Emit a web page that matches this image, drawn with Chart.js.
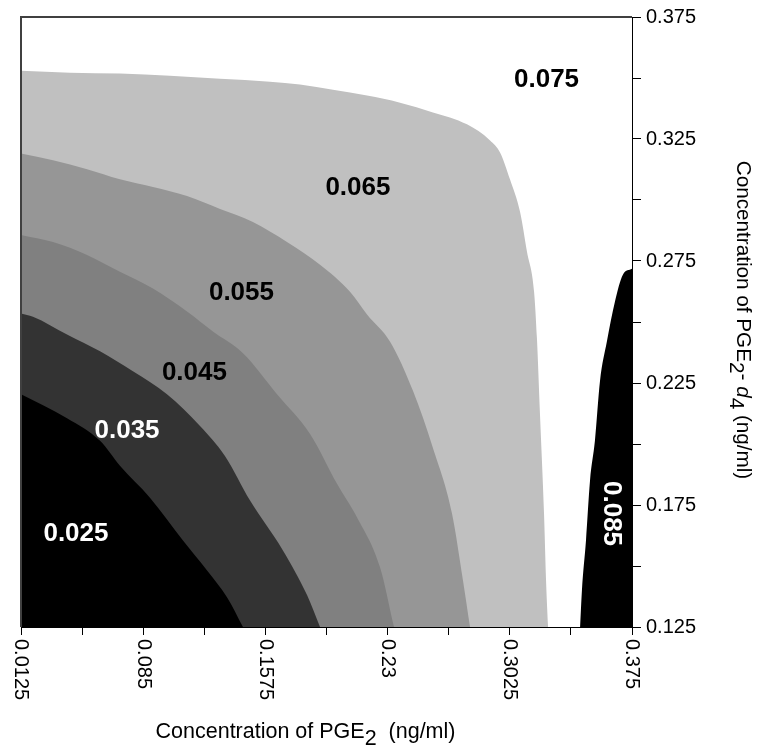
<!DOCTYPE html>
<html><head><meta charset="utf-8">
<script src="https://cdn.jsdelivr.net/npm/chart.js@4.4.0/dist/chart.umd.min.js"></script>
<style>html,body{margin:0;padding:0;background:#fff;}#wrap{width:764px;height:751px;}</style>
</head><body><div id="wrap"><canvas id="c" width="764" height="751"></canvas></div>
<script>
// ---- data ----
const xTickValues = [0.0125, 0.085, 0.1575, 0.23, 0.3025, 0.375];
const xTickLabels = ['0.0125', '0.085', '0.1575', '0.23', '0.3025', '0.375'];
const yTickValues = [0.125, 0.175, 0.225, 0.275, 0.325, 0.375];
const yTickLabels = ['0.125', '0.175', '0.225', '0.275', '0.325', '0.375'];

// contour boundaries: x = PGE2 (ng/ml), y = PGE2-d4 (ng/ml); region lies below each line
const level025X = [0.0125,0.0398,0.0594,0.0712,0.0890,0.1086,0.1229,0.1347,0.1442];
const level025Y = [0.2204,0.2106,0.2013,0.1911,0.1780,0.1605,0.1482,0.1372,0.125];
const level035X = [0.0125,0.0196,0.0398,0.0594,0.0789,0.0991,0.1187,0.1335,0.1484,0.1679,0.1822,0.1899];
const level035Y = [0.2535,0.2522,0.2449,0.2380,0.2298,0.2204,0.2074,0.1951,0.1768,0.1564,0.1381,0.125];
const level045X = [0.0125,0.0315,0.0517,0.0712,0.0908,0.1110,0.1264,0.1442,0.1644,0.1840,0.2000,0.2119,0.2255,0.2338];
const level045Y = [0.2857,0.2828,0.2775,0.2706,0.2637,0.2543,0.2461,0.2372,0.2204,0.2041,0.1837,0.1699,0.1495,0.125];
const level055X = [0.0125,0.0315,0.0517,0.0712,0.0908,0.1110,0.1306,0.1501,0.1703,0.1899,0.2077,0.2178,0.2314,0.2451,0.2569,0.2682,0.2747,0.2789];
const level055Y = [0.3191,0.3163,0.3126,0.3085,0.3053,0.3016,0.2963,0.2910,0.2828,0.2735,0.2624,0.2531,0.2420,0.2217,0.1984,0.1715,0.1442,0.125];
const level065X = [0.0125,0.0416,0.0712,0.1009,0.1306,0.1602,0.1780,0.1976,0.2178,0.2374,0.2569,0.2771,0.2908,0.2967,0.3026,0.3086,0.3127,0.3169,0.3186,0.3204,0.3228,0.3240,0.3252];
const level065Y = [0.3530,0.3522,0.3518,0.3509,0.3497,0.3485,0.3473,0.3452,0.3428,0.3399,0.3359,0.3310,0.3244,0.3195,0.3085,0.2951,0.2788,0.2624,0.2433,0.2123,0.1715,0.1442,0.125];
const level085X = [0.3442,0.3453,0.3477,0.3501,0.3530,0.3560,0.3601,0.3649,0.3696,0.375];
const level085Y = [0.125,0.1401,0.1605,0.1850,0.2013,0.2257,0.2420,0.2584,0.2694,0.2718];

// contour level labels and their anchor (data units)
const labelTexts = ['0.075','0.065','0.055','0.045','0.035','0.025','0.085'];
const labelX = [0.3243,0.2124,0.1433,0.1154,0.0754,0.0451,0.3634];
const labelY = [0.3497,0.3055,0.2624,0.2294,0.2058,0.1637,0.1715];

// ---- styling ----
const FAM = "'Liberation Sans', Arial, sans-serif";
const labelColor = {'0.075':'#000','0.065':'#000','0.055':'#000','0.045':'#000','0.035':'#fff','0.025':'#fff','0.085':'#fff'};
const labelRot = {'0.085': Math.PI/2};

const pts = (xs, ys) => xs.map((x, i) => ({x: x, y: ys[i]}));
const area = (xs, ys, col) => ({
  data: pts(xs, ys), fill: 'start', backgroundColor: col,
  borderWidth: 0, pointRadius: 0, cubicInterpolationMode: 'monotone'
});

function withMinor(vals) {
  const t = [];
  for (let i = 0; i < vals.length; i++) {
    t.push({value: vals[i]});
    if (i < vals.length - 1) t.push({value: (vals[i] + vals[i+1]) / 2});
  }
  return t;
}

function drawRich(ctx, segs, x, y) {
  let w = 0;
  segs.forEach(s => { ctx.font = s.f; w += ctx.measureText(s.t).width; });
  let cx = x - w / 2;
  segs.forEach(s => {
    ctx.font = s.f;
    ctx.fillText(s.t, cx, y + (s.dy || 0));
    cx += ctx.measureText(s.t).width;
  });
}

const overlay = {
  id: 'overlay',
  afterDatasetsDraw(chart) {
    const {ctx, chartArea: a, scales: {x, y}} = chart;
    ctx.save();
    // contour labels
    ctx.textAlign = 'center'; ctx.textBaseline = 'middle';
    ctx.font = 'bold 26px ' + FAM;
    labelTexts.forEach((t, i) => {
      ctx.save();
      ctx.translate(x.getPixelForValue(labelX[i]), y.getPixelForValue(labelY[i]));
      if (labelRot[t]) ctx.rotate(labelRot[t]);
      ctx.fillStyle = labelColor[t];
      ctx.fillText(t, 0, 1);
      ctx.restore();
    });
    // frame
    ctx.strokeStyle = '#404040'; ctx.lineWidth = 2;
    ctx.beginPath();
    ctx.moveTo(a.left, a.bottom); ctx.lineTo(a.left, a.top); ctx.lineTo(a.right, a.top);
    ctx.stroke();
    ctx.strokeStyle = '#000'; ctx.lineWidth = 1;
    ctx.beginPath();
    ctx.moveTo(a.left, a.bottom + 0.5); ctx.lineTo(a.right + 0.5, a.bottom + 0.5); ctx.lineTo(a.right + 0.5, a.top);
    ctx.stroke();
    // x tick labels (rotated clockwise)
    ctx.fillStyle = '#000'; ctx.font = '20px ' + FAM;
    ctx.textAlign = 'left'; ctx.textBaseline = 'middle';
    xTickValues.forEach((v, i) => {
      ctx.save();
      ctx.translate(x.getPixelForValue(v), a.bottom + 12);
      ctx.rotate(Math.PI / 2);
      ctx.fillText(xTickLabels[i], 0, 0);
      ctx.restore();
    });
    // axis titles
    ctx.textAlign = 'left'; ctx.textBaseline = 'alphabetic';
    const fx = '21.5px ' + FAM;
    drawRich(ctx, [
      {t: 'Concentration of PGE', f: fx},
      {t: '2', f: fx, dy: 7},
      {t: '  (ng/ml)', f: fx}
    ], a.left + 284.5, a.bottom + 111);
    const fy = '20.7px ' + FAM;
    ctx.save();
    ctx.translate(a.right + 105, (a.top + a.bottom) / 2 - 2);
    ctx.rotate(Math.PI / 2);
    drawRich(ctx, [
      {t: 'Concentration of PGE', f: fy},
      {t: '2', f: fy, dy: 7},
      {t: '- ', f: fy},
      {t: 'd', f: 'italic ' + fy},
      {t: '4', f: fy, dy: 7},
      {t: ' (ng/ml)', f: fy}
    ], 0, 0);
    ctx.restore();
    ctx.restore();
  }
};

new Chart(document.getElementById('c'), {
  type: 'line',
  data: {
    datasets: [
      area(level025X, level025Y, '#000000'),
      area(level035X, level035Y, '#333333'),
      area(level045X, level045Y, '#808080'),
      area(level055X, level055Y, '#969696'),
      area(level065X, level065Y, '#c0c0c0'),
      area(level085X, level085Y, '#000000')
    ]
  },
  options: {
    responsive: false, animation: false, events: [],
    layout: {padding: {left: 21, top: 14, right: 0, bottom: 0}},
    plugins: {legend: {display: false}, tooltip: {enabled: false}},
    scales: {
      x: {
        type: 'linear', position: 'bottom', min: 0.0125, max: 0.375,
        afterBuildTicks: s => { s.ticks = withMinor(xTickValues); },
        ticks: {display: false, autoSkip: false},
        grid: {drawOnChartArea: false, drawTicks: true, tickLength: 8, color: '#000'},
        border: {display: true, color: '#000', width: 1},
        afterFit: s => { s.height = 124; }
      },
      y: {
        type: 'linear', position: 'right', min: 0.125, max: 0.375,
        afterBuildTicks: s => { s.ticks = withMinor(yTickValues); },
        ticks: {
          autoSkip: false, padding: 5, color: '#000', font: {family: FAM, size: 20},
          callback: v => { const i = yTickValues.findIndex(t => Math.abs(t - v) < 1e-9); return i >= 0 ? yTickLabels[i] : ''; }
        },
        grid: {drawOnChartArea: false, drawTicks: true, tickLength: 9, color: '#000'},
        border: {display: true, color: '#000', width: 1},
        afterFit: s => { s.width = 132; }
      }
    }
  },
  plugins: [overlay]
});
</script>
</body></html>
